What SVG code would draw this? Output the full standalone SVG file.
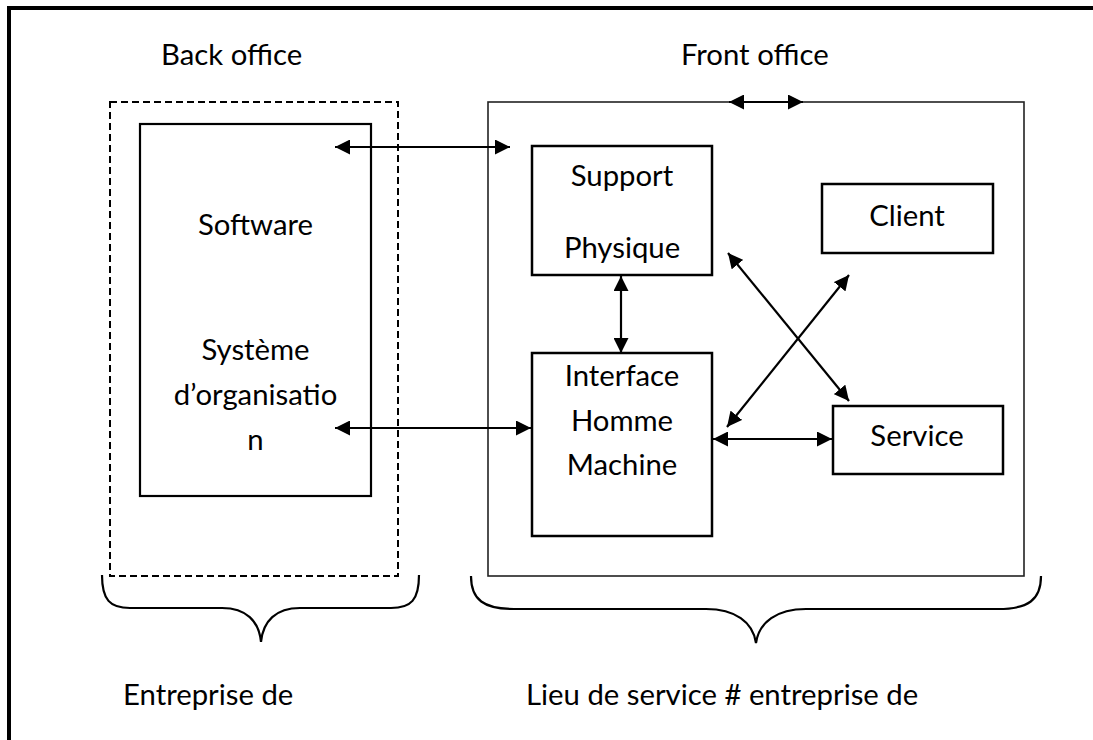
<svg xmlns="http://www.w3.org/2000/svg" width="1093" height="740" viewBox="0 0 1093 740">
  <style>
    .lbl { font-family: Lato, "Liberation Sans", sans-serif; font-size: 29.3px; fill: #000; }
    .mid { text-anchor: middle; }
    .box { fill: #fff; stroke: #000; stroke-width: 2.5; }
    .thin { fill: none; stroke: #222; stroke-width: 1.6; }
    .dash { fill: none; stroke: #000; stroke-width: 2; stroke-dasharray: 7 4; }
    .brace { fill: none; stroke: #000; stroke-width: 2.2; }
    .conn line { stroke: #000; stroke-width: 2.2; marker-start: url(#head); marker-end: url(#head); }
  </style>
  <defs>
    <marker id="head" viewBox="0 0 15 15" refX="15" refY="7.5" markerWidth="15" markerHeight="15" markerUnits="userSpaceOnUse" orient="auto-start-reverse">
      <path d="M0,0 L15,7.5 L0,15 Z" fill="#000"/>
    </marker>
  </defs>
  <rect width="1093" height="740" fill="#fff"/>

  <!-- page frame: top and left rules -->
  <g id="frame">
    <line x1="7" y1="8" x2="1093" y2="8" stroke="#000" stroke-width="4"/>
    <line x1="9" y1="6" x2="9" y2="740" stroke="#000" stroke-width="4"/>
  </g>

  <!-- section titles -->
  <text class="lbl" x="161" y="65">Back office</text>
  <text class="lbl" x="681" y="65">Front office</text>

  <!-- back office -->
  <g id="back-office">
    <rect class="dash" x="110" y="102" width="288" height="474"/>
  </g>
  <g id="software">
    <rect x="140" y="124" width="231" height="372" fill="#fff" stroke="#000" stroke-width="2.2"/>
    <text class="lbl mid" x="255.5" y="235">Software</text>
    <text class="lbl mid" x="255.5" y="360">Système</text>
    <text class="lbl mid" x="255.5" y="405">d’organisatio</text>
    <text class="lbl mid" x="255.5" y="450">n</text>
  </g>

  <!-- front office -->
  <g id="front-office">
    <rect class="thin" x="488" y="102" width="536" height="474"/>
  </g>
  <g id="support-physique">
    <rect class="box" x="532" y="146" width="180" height="129"/>
    <text class="lbl mid" x="622" y="186">Support</text>
    <text class="lbl mid" x="622" y="258">Physique</text>
  </g>
  <g id="client">
    <rect class="box" x="822" y="184" width="171" height="69"/>
    <text class="lbl mid" x="907" y="226">Client</text>
  </g>
  <g id="interface">
    <rect class="box" x="532" y="353" width="180" height="183"/>
    <text class="lbl mid" x="622" y="386">Interface</text>
    <text class="lbl mid" x="622" y="431">Homme</text>
    <text class="lbl mid" x="622" y="475">Machine</text>
  </g>
  <g id="service">
    <rect class="box" x="833" y="406" width="170" height="68"/>
    <text class="lbl mid" x="917" y="446">Service</text>
  </g>

  <!-- connectors -->
  <g id="connectors" class="conn">
    <line x1="335" y1="147" x2="510" y2="147"/>
    <line x1="729" y1="102" x2="803" y2="102"/>
    <line x1="621" y1="276" x2="621" y2="353"/>
    <line x1="728" y1="253" x2="849" y2="401"/>
    <line x1="727" y1="427" x2="849" y2="275"/>
    <line x1="713" y1="439" x2="832" y2="439"/>
    <line x1="335" y1="428" x2="531" y2="428"/>
  </g>

  <!-- braces and captions -->
  <g id="brace-back">
    <path class="brace" d="M102,575 C102,600 110,608 130,608 L222,608 C246,608 259,621 261,642 C263,621 276,608 300,608 L391,608 C411,608 419,600 419,575"/>
    <text class="lbl" x="123" y="705">Entreprise de</text>
  </g>
  <g id="brace-front">
    <path class="brace" d="M471,576 C471,600 484,609 514,609 L706,609 C735,609 753,622 756,643 C759,622 777,609 806,609 L998,609 C1028,609 1041,600 1041,576"/>
    <text class="lbl" x="526" y="705">Lieu de service # entreprise de</text>
  </g>
</svg>
